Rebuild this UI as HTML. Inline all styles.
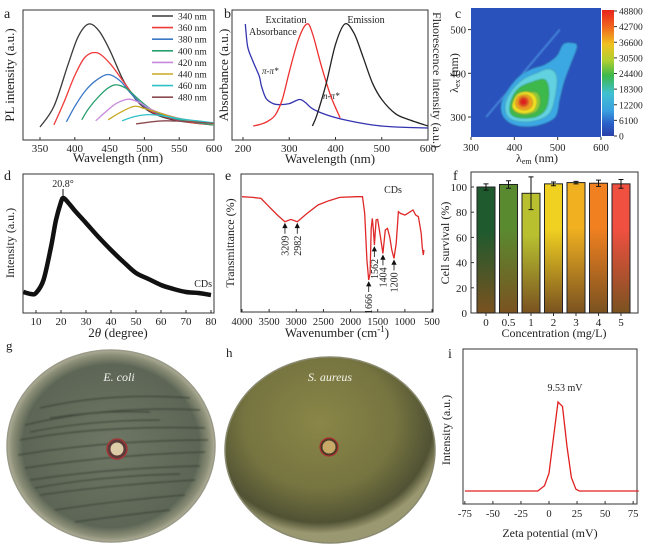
<!DOCTYPE html>
<html><head><meta charset="utf-8"><style>
html,body{margin:0;padding:0;background:#fff;}
svg{display:block;font-family:"Liberation Serif",serif;}
text{fill:#222;}
</style></head><body>
<svg id="fig" width="663" height="548" viewBox="0 0 663 548" xmlns="http://www.w3.org/2000/svg">
<defs>
<filter id="blur1"><feGaussianBlur stdDeviation="0.7"/></filter>
<filter id="blur2"><feGaussianBlur stdDeviation="0.8"/></filter>
<linearGradient id="cbar" x1="0" y1="0" x2="0" y2="1">
<stop offset="0" stop-color="#e8221e"/><stop offset="0.14" stop-color="#f06a1e"/><stop offset="0.27" stop-color="#f0c020"/><stop offset="0.4" stop-color="#b0d030"/><stop offset="0.52" stop-color="#3cb84a"/><stop offset="0.66" stop-color="#40c0d0"/><stop offset="0.8" stop-color="#3aa0e0"/><stop offset="0.9" stop-color="#2a60c8"/><stop offset="1" stop-color="#2a40a8"/>
</linearGradient>
<radialGradient id="dishG" cx="0.5" cy="0.5" r="0.5"><stop offset="0" stop-color="#6e7664"/><stop offset="0.85" stop-color="#5d6656"/><stop offset="0.95" stop-color="#8d9078"/><stop offset="1" stop-color="#b0ae98"/></radialGradient>
<radialGradient id="dishH" cx="0.45" cy="0.35" r="0.6"><stop offset="0" stop-color="#8a8648"/><stop offset="0.6" stop-color="#767440"/><stop offset="0.9" stop-color="#505234"/><stop offset="1" stop-color="#9a9870"/></radialGradient>
</defs>

<g id="pa">
<text x="4" y="18" font-size="14">a</text>
<rect x="23" y="10" width="191" height="130" fill="none" stroke="#333" stroke-width="1"/>
<text transform="translate(14,75) rotate(-90)" text-anchor="middle" font-size="13">PL intensity (a.u.)</text>
<text x="118" y="162" text-anchor="middle" font-size="13">Wavelength (nm)</text>
</g>
<g id="pb">
<text x="224" y="18" font-size="14">b</text>
<rect x="232" y="10" width="196" height="130" fill="none" stroke="#333" stroke-width="1"/>
<text transform="translate(228,75) rotate(-90)" text-anchor="middle" font-size="13">Absorbance (a.u.)</text>
<text transform="translate(433,80) rotate(90)" text-anchor="middle" font-size="12">Fluorescence intensity (a.u.)</text>
<text x="330" y="163" text-anchor="middle" font-size="13">Wavelength (nm)</text>
<text x="249" y="35" font-size="10">Absorbance</text>
<text x="286" y="23" text-anchor="middle" font-size="10">Excitation</text>
<text x="366" y="23" text-anchor="middle" font-size="10">Emission</text>
<text x="262" y="74" font-size="9" font-style="italic">π-π*</text>
<text x="323" y="99" font-size="9" font-style="italic">n-π*</text>
</g>
<g id="pc">
<text x="455" y="18" font-size="14">c</text>
<rect x="471" y="8" width="130" height="129" fill="#2a52bc"/>
<g id="heat" filter="url(#blur1)"></g>
<rect x="602" y="10" width="12" height="126" fill="url(#cbar)"/>
<text transform="translate(458,73) rotate(-90)" text-anchor="middle" font-size="12">λ<tspan font-size="8" dy="2">ex</tspan><tspan dy="-2"> (nm)</tspan></text>
<text x="537" y="162" text-anchor="middle" font-size="12">λ<tspan font-size="8" dy="2">em</tspan><tspan dy="-2"> (nm)</tspan></text>
</g>
<g id="pd">
<text x="4" y="180" font-size="14">d</text>
<rect x="23" y="174" width="191" height="139" fill="none" stroke="#333"/>
<text transform="translate(14,243) rotate(-90)" text-anchor="middle" font-size="12">Intensity (a.u.)</text>
<text x="118" y="337" text-anchor="middle" font-size="13">2<tspan font-style="italic">θ</tspan> (degree)</text>
<text x="63" y="187" text-anchor="middle" font-size="10">20.8°</text>
<text x="212" y="287" text-anchor="end" font-size="10">CDs</text>
</g>
<g id="pe">
<text x="225" y="180" font-size="14">e</text>
<rect x="241" y="174" width="192" height="138" fill="none" stroke="#333"/>
<text transform="translate(234,243) rotate(-90)" text-anchor="middle" font-size="12">Transmittance (%)</text>
<text x="337" y="337" text-anchor="middle" font-size="13">Wavenumber (cm<tspan font-size="9" dy="-5">-1</tspan><tspan dy="5">)</tspan></text>
<text x="393" y="193" text-anchor="middle" font-size="10">CDs</text>
</g>
<g id="pf">
<text x="453" y="180" font-size="14">f</text>
<rect x="471" y="172" width="167" height="141" fill="none" stroke="#333"/>
<text transform="translate(449,243) rotate(-90)" text-anchor="middle" font-size="12">Cell survival (%)</text>
<text x="554" y="337" text-anchor="middle" font-size="12">Concentration (mg/L)</text>
</g>
<g id="pg">
<text x="6" y="350" font-size="13">g</text>
<ellipse cx="111" cy="446" rx="104" ry="96" fill="url(#dishG)" stroke="#9a9a88" stroke-width="1.5"/>
<g stroke="#363e32" stroke-width="1.2" opacity="0.75" fill="none" filter="url(#blur2)">
<path d="M40 408 Q110 392 190 398"/><path d="M25 425 Q110 405 200 410"/><path d="M20 440 Q100 425 205 428"/><path d="M18 455 Q110 440 208 440"/><path d="M25 468 Q110 455 205 452"/><path d="M30 480 Q110 468 200 466"/><path d="M40 495 Q110 485 195 480"/><path d="M55 510 Q120 500 185 495"/><path d="M75 522 Q125 515 170 510"/><path d="M50 418 Q100 410 150 412"/><path d="M30 432 Q90 420 160 420"/><path d="M35 488 Q100 476 180 474"/>
</g>
<circle cx="117" cy="449" r="10" fill="#5a3a38" stroke="#a03838" stroke-width="1.5"/>
<circle cx="117" cy="449" r="6.5" fill="#dccca8"/>
<text x="119" y="381" text-anchor="middle" font-size="12" font-style="italic" style="fill:#f4f4f0">E. coli</text>
</g>
<g id="ph">
<text x="226" y="357" font-size="13">h</text>
<ellipse cx="330" cy="450" rx="105" ry="93" fill="url(#dishH)" stroke="#8a8a70" stroke-width="1.5"/>
<circle cx="329" cy="447" r="9" fill="#4a3a28" stroke="#b03030" stroke-width="1.2"/>
<circle cx="329" cy="447" r="6.5" fill="#c8aa68"/>
<text x="330" y="381" text-anchor="middle" font-size="12" font-style="italic" style="fill:#f4f4ea">S. aureus</text>
</g>
<g id="pi">
<text x="448" y="358" font-size="14">i</text>
<rect x="463" y="349" width="174" height="155" fill="none" stroke="#333"/>
<text transform="translate(450,430) rotate(-90)" text-anchor="middle" font-size="12">Intensity (a.u.)</text>
<text x="550" y="537" text-anchor="middle" font-size="12">Zeta potential (mV)</text>
<text x="565" y="391" text-anchor="middle" font-size="10">9.53 mV</text>
</g>
</svg>
<script>
const aExc = ["340 nm","360 nm","380 nm","400 nm","420 nm","440 nm","460 nm","480 nm"];
const aColors = ["#3a3a3a","#f03a3a","#3a78c8","#2aa070","#c888dc","#c8a820","#30c0c8","#8a4a50"];
const aWl = [
 [350,370,390,405,420,435,450,470,490,510,540,570,600],
 [370,385,400,415,432,450,470,490,510,540,570,600],
 [388,400,415,430,448,465,480,500,520,550,600],
 [410,420,435,448,460,475,490,510,530,560,600],
 [430,445,460,478,495,510,530,560,600],
 [448,465,485,500,520,545,570,600],
 [468,485,505,525,550,575,600],
 [488,510,530,555,580,600]];
const aInt = [
 [0.0,0.2,0.6,0.88,1.0,0.93,0.75,0.45,0.25,0.14,0.07,0.04,0.02],
 [0.02,0.25,0.5,0.68,0.72,0.62,0.44,0.26,0.15,0.08,0.04,0.02],
 [0.05,0.2,0.35,0.45,0.51,0.45,0.33,0.2,0.13,0.07,0.02],
 [0.07,0.18,0.3,0.38,0.41,0.37,0.28,0.17,0.11,0.06,0.02],
 [0.06,0.15,0.23,0.27,0.23,0.17,0.12,0.07,0.03],
 [0.07,0.14,0.2,0.18,0.14,0.09,0.06,0.03],
 [0.06,0.1,0.12,0.11,0.08,0.06,0.04],
 [0.03,0.05,0.06,0.055,0.045,0.035]];
const aTicks = [350,400,450,500,550,600];

const bAbsWl = [205,210,220,235,240,250,265,280,300,322,335,350,380,420,480,530,600];
const bAbsI  = [1.0,0.78,0.65,0.49,0.39,0.27,0.22,0.21,0.22,0.26,0.23,0.17,0.11,0.06,0.01,-0.01,-0.02];
const bExcWl = [222,240,255,270,285,300,320,338,350,370,390,410];
const bExcI  = [0,0.02,0.05,0.11,0.26,0.53,0.85,1.0,0.91,0.58,0.29,0.08];
const bEmWl  = [350,360,380,400,420,440,460,480,500,530,560,600];
const bEmI   = [0,0.11,0.42,0.8,1.0,0.91,0.67,0.42,0.26,0.12,0.06,0];
const bTicks = [200,300,400,500,600];

const cLevels = [6100,12200,18300,24400,30500,36600,42700,48800];
const cColors = ["#3aa8e4","#62d2e0","#3cb84c","#8cca3a","#f0e020","#f09a20","#f05020","#e41e1e"];
const cContours = [
 [[372,305],[390,286],[420,278],[460,282],[495,300],[505,340],[515,380],[530,420],[545,462],[530,470],[512,466],[498,440],[470,420],[440,410],[410,392],[385,362],[370,332]],
 [[382,306],[400,292],[440,290],[478,305],[493,340],[498,392],[480,410],[450,400],[420,386],[395,362],[380,332]],
 [[390,310],[410,298],[450,300],[474,320],[480,360],[470,386],[440,380],[410,366],[393,340]],
 [[398,316],[420,305],[450,312],[460,335],[452,356],[425,356],[403,340]],
 [[395,325],[405,312],[425,308],[445,315],[452,335],[445,352],[425,358],[405,350]],
 [[403,328],[412,318],[428,316],[440,324],[442,338],[432,350],[415,350],[405,342]],
 [[410,333],[415,325],[425,324],[432,330],[432,340],[424,346],[414,344]],
 [[414,334],[418,329],[425,329],[428,335],[425,341],[418,341]]];
const cXTicks = [300,400,500,600];
const cYTicks = [300,400,500];

const dAngle = [5,8,10,13,16,18,20,21,23,26,30,35,40,45,50,55,60,65,70,75,80];
const dInt   = [0.03,0.01,0.02,0.15,0.48,0.75,0.93,0.97,0.92,0.83,0.72,0.58,0.45,0.33,0.22,0.16,0.1,0.06,0.03,0.02,0.0];
const dTicks = [10,20,30,40,50,60,70,80];

const eWn = [4000,3800,3650,3500,3350,3209,3100,2982,2800,2600,2400,2200,1900,1780,1740,1700,1666,1640,1620,1600,1580,1562,1530,1500,1450,1404,1360,1320,1280,1240,1200,1160,1120,1080,1000,950,900,850,800,750,700,680,660,650];
const eT  = [100,99.3,98.3,90,81.7,75,77.3,75,83.3,91.7,96,99.3,100,100,83.3,36.7,16.7,23.3,68.3,78.3,66.7,51.7,76.7,77.3,60,43.3,66.7,68.3,60,46.7,38.3,53.3,85,83.3,81.7,83.3,85,86.7,81.7,80,63.3,50,41.7,46.7];
const ePeaks = [3209,2982,1666,1562,1404,1200];
const eTicks = [4000,3500,3000,2500,2000,1500,1000,500];

const fCats = ["0","0.5","1","2","3","4","5"];
const fVals = [100,102,95,102.5,103.5,103,102.5];
const fErr  = [2.5,3,13,1.5,1,2.5,3.5];
const fColors = ["#1e5a2e","#5a8a30","#b8c030","#f0d020","#f0b020","#f08020","#f05040"];
const fTicks = [0,20,40,60,80,100];

const iZeta = [-75,-10,-4,0,4,8,12,16,20,24,27,80];
const iInt  = [0,0,0.06,0.2,0.6,1.0,0.95,0.5,0.15,0.02,0,0];
const iTicks = [-75,-50,-25,0,25,50,75];

const xa = w => 40 + (w-350)*0.696, ya = v => 127 - v*103;
const xb = w => 243 + (w-200)*0.4625, yb = v => 126 - v*102;
const xc = w => 471 + (w-300)*0.4333, yc = w => 117 - (w-300)*0.437;
const xd = a => 36 + (a-10)*2.5, yd = v => 295 - v*100;
const xe = n => 242 + (4000-n)*0.05429, ye = t => 296.7 - t;
const xfc = i => 486 + i*22.5, yf = v => 313 - v*1.26;
const xi = z => 549 + z*1.122, yi = v => 491 - v*89;

const NS = "http://www.w3.org/2000/svg";
const svg = document.getElementById('fig');
function mk(tag, parent){ const e = document.createElementNS(NS, tag); parent.appendChild(e); return e; }
function smooth(pts){
  let d = "M" + pts[0][0].toFixed(1) + " " + pts[0][1].toFixed(1);
  for (let i=0;i<pts.length-1;i++){
    const p0 = pts[i-1]||pts[i], p1 = pts[i], p2 = pts[i+1], p3 = pts[i+2]||p2;
    const c1 = [p1[0]+(p2[0]-p0[0])/6, p1[1]+(p2[1]-p0[1])/6];
    const c2 = [p2[0]-(p3[0]-p1[0])/6, p2[1]-(p3[1]-p1[1])/6];
    d += " C"+c1[0].toFixed(1)+" "+c1[1].toFixed(1)+" "+c2[0].toFixed(1)+" "+c2[1].toFixed(1)+" "+p2[0].toFixed(1)+" "+p2[1].toFixed(1);
  }
  return d;
}
function closedSmooth(pts){
  const n = pts.length; let d = "M"+pts[0][0].toFixed(1)+" "+pts[0][1].toFixed(1);
  for (let i=0;i<n;i++){
    const p0=pts[(i-1+n)%n], p1=pts[i], p2=pts[(i+1)%n], p3=pts[(i+2)%n];
    d += " C"+(p1[0]+(p2[0]-p0[0])/6).toFixed(1)+" "+(p1[1]+(p2[1]-p0[1])/6).toFixed(1)+" "+(p2[0]-(p3[0]-p1[0])/6).toFixed(1)+" "+(p2[1]-(p3[1]-p1[1])/6).toFixed(1)+" "+p2[0].toFixed(1)+" "+p2[1].toFixed(1);
  }
  return d+"Z";
}
function tickLabel(parent, x, y, txt, anchor, size){
  const t = mk('text', parent);
  t.setAttribute('x', x); t.setAttribute('y', y);
  t.setAttribute('text-anchor', anchor||'middle'); t.setAttribute('font-size', size||11);
  t.textContent = txt;
  
  
  return t;
}
function tickMark(parent, x1, y1, x2, y2){
  const l = mk('line', parent);
  l.setAttribute('x1',x1); l.setAttribute('y1',y1); l.setAttribute('x2',x2); l.setAttribute('y2',y2);
  l.setAttribute('stroke','#333'); l.setAttribute('stroke-width','1');
  
  
}

const pa = document.getElementById('pa');
aTicks.forEach(t => { tickMark(pa, xa(t), 140, xa(t), 137); tickLabel(pa, xa(t), 152, t); });
aWl.forEach((wls, k) => {
  const p = mk('path', pa);
  p.setAttribute('d', smooth(wls.map((w,i)=>[xa(w), ya(aInt[k][i])])));
  p.setAttribute('fill','none'); p.setAttribute('stroke', aColors[k]); p.setAttribute('stroke-width','1.3');
  
  
  const ly = 16 + k*11.6;
  const l = mk('line', pa);
  l.setAttribute('x1',152); l.setAttribute('x2',173); l.setAttribute('y1',ly); l.setAttribute('y2',ly);
  l.setAttribute('stroke', aColors[k]); l.setAttribute('stroke-width','1.6');
  
  
  const t = tickLabel(pa, 178, ly+3.5, aExc[k], 'start', 9.5);
  
});

const pb = document.getElementById('pb');
bTicks.forEach(t => { tickMark(pb, xb(t), 140, xb(t), 137); tickLabel(pb, xb(t), 152, t); });
[[bAbsWl,bAbsI,"#3434b0","absorbance-curve"],[bExcWl,bExcI,"#ee3030","excitation-curve"],[bEmWl,bEmI,"#222","emission-curve"]].forEach(s=>{
  const p = mk('path', pb);
  p.setAttribute('d', smooth(s[0].map((w,i)=>[xb(w), yb(s[1][i])])));
  p.setAttribute('fill','none'); p.setAttribute('stroke', s[2]); p.setAttribute('stroke-width','1.3');
  
  
});

const pc = document.getElementById('pc');
const heat = document.getElementById('heat');
const diag = mk('line', heat);
diag.setAttribute('x1', xc(335)); diag.setAttribute('y1', yc(300)); diag.setAttribute('x2', xc(505)); diag.setAttribute('y2', yc(500));
diag.setAttribute('stroke','#4a90e0'); diag.setAttribute('stroke-width','1.5');


cContours.forEach((poly,k)=>{
  const p = mk('path', heat);
  p.setAttribute('d', closedSmooth(poly.map(q=>[xc(q[0]), yc(q[1])])));
  p.setAttribute('fill', cColors[k]);
  p.setAttribute('stroke', 'rgba(40,80,60,0.35)'); p.setAttribute('stroke-width','0.6');
  
  
});
cXTicks.forEach(t => { tickMark(pc, xc(t), 137, xc(t), 140); tickLabel(pc, xc(t), 151, t, 'middle', 10.5); });
cYTicks.forEach(t => { tickMark(pc, 471, yc(t), 468, yc(t)); tickLabel(pc, 466, yc(t)+4, t, 'end', 10.5); });
cLevels.slice().reverse().concat([0]).forEach((v,i)=>{
  const y = 11 + i*(125/8);
  tickMark(pc, 614, y, 617, y);
  tickLabel(pc, 619, y+3.5, v, 'start', 9.5);
});

const pd = document.getElementById('pd');
dTicks.forEach(t => { tickMark(pd, xd(t), 313, xd(t), 310); tickLabel(pd, xd(t), 325, t); });
const dp = mk('path', pd);
dp.setAttribute('d', smooth(dAngle.map((a,i)=>[xd(a), yd(dInt[i])])));
dp.setAttribute('fill','none'); dp.setAttribute('stroke','#111'); dp.setAttribute('stroke-width','4.5');


const dl = mk('line', pd);
dl.setAttribute('x1', xd(20.8)); dl.setAttribute('x2', xd(20.8)); dl.setAttribute('y1', 189); dl.setAttribute('y2', yd(0.97));
dl.setAttribute('stroke','#111');



const pe = document.getElementById('pe');
eTicks.forEach(t => { tickMark(pe, xe(t), 312, xe(t), 309); tickLabel(pe, xe(t), 325, t, 'middle', 10.5); });
const ep = mk('polyline', pe);
ep.setAttribute('points', eWn.map((n,i)=>xe(n).toFixed(1)+","+ye(eT[i]).toFixed(1)).join(" "));
ep.setAttribute('fill','none'); ep.setAttribute('stroke','#e02828'); ep.setAttribute('stroke-width','1.3');


ePeaks.forEach(n=>{
  const i = eWn.indexOf(n), x = xe(n), y = ye(eT[i]);
  const ar = mk('path', pe);
  ar.setAttribute('d', "M"+x+" "+(y+2)+" l-2 4 l4 0 z M"+x+" "+(y+5)+" l0 7");
  ar.setAttribute('stroke','#111'); ar.setAttribute('fill','#111'); ar.setAttribute('stroke-width','0.8');
  
  
  const t = mk('text', pe);
  t.setAttribute('transform', 'translate('+(x+3.5)+','+(y+14)+') rotate(-90)');
  t.setAttribute('text-anchor','end'); t.setAttribute('font-size','10');
  t.textContent = n;
  
  
});

const pf = document.getElementById('pf');
const defs = svg.querySelector('defs');
fTicks.forEach(t => { tickMark(pf, 471, yf(t), 474, yf(t)); tickLabel(pf, 467, yf(t)+4, t, 'end', 11); });
fCats.forEach((c,i)=>{
  const g = mk('linearGradient', defs);
  g.setAttribute('id','fg'+i); g.setAttribute('x1','0'); g.setAttribute('y1','0'); g.setAttribute('x2','0'); g.setAttribute('y2','1');
  const s1 = mk('stop', g); s1.setAttribute('offset','0'); s1.setAttribute('stop-color', fColors[i]);
  const s2 = mk('stop', g); s2.setAttribute('offset','0.35'); s2.setAttribute('stop-color', fColors[i]);
  const s3 = mk('stop', g); s3.setAttribute('offset','1'); s3.setAttribute('stop-color', '#7a5220');
  const x = xfc(i);
  const r = mk('rect', pf);
  r.setAttribute('x', x-9); r.setAttribute('width', 18);
  r.setAttribute('y', yf(fVals[i])); r.setAttribute('height', yf(0)-yf(fVals[i]));
  r.setAttribute('fill', 'url(#fg'+i+')'); r.setAttribute('stroke','#222'); r.setAttribute('stroke-width','1');
  
  
  const e = mk('path', pf);
  const yt = yf(fVals[i]+fErr[i]), yb2 = yf(fVals[i]-fErr[i]);
  e.setAttribute('d', "M"+x+" "+yt+" V"+yb2+" M"+(x-2.5)+" "+yt+" h5 M"+(x-2.5)+" "+yb2+" h5");
  e.setAttribute('stroke','#111'); e.setAttribute('stroke-width','1');
  
  
  tickMark(pf, x, 313, x, 316);
  tickLabel(pf, x, 326, c, 'middle', 11);
});

const pi = document.getElementById('pi');
iTicks.forEach(t => { tickMark(pi, xi(t), 504, xi(t), 501); tickLabel(pi, xi(t), 517, t, 'middle', 10.5); });
const ip = mk('polyline', pi);
ip.setAttribute('points', iZeta.map((z,i)=>xi(z).toFixed(1)+","+yi(iInt[i]).toFixed(1)).join(" "));
ip.setAttribute('fill','none'); ip.setAttribute('stroke','#e02020'); ip.setAttribute('stroke-width','1.3');


</script>
</body></html>
